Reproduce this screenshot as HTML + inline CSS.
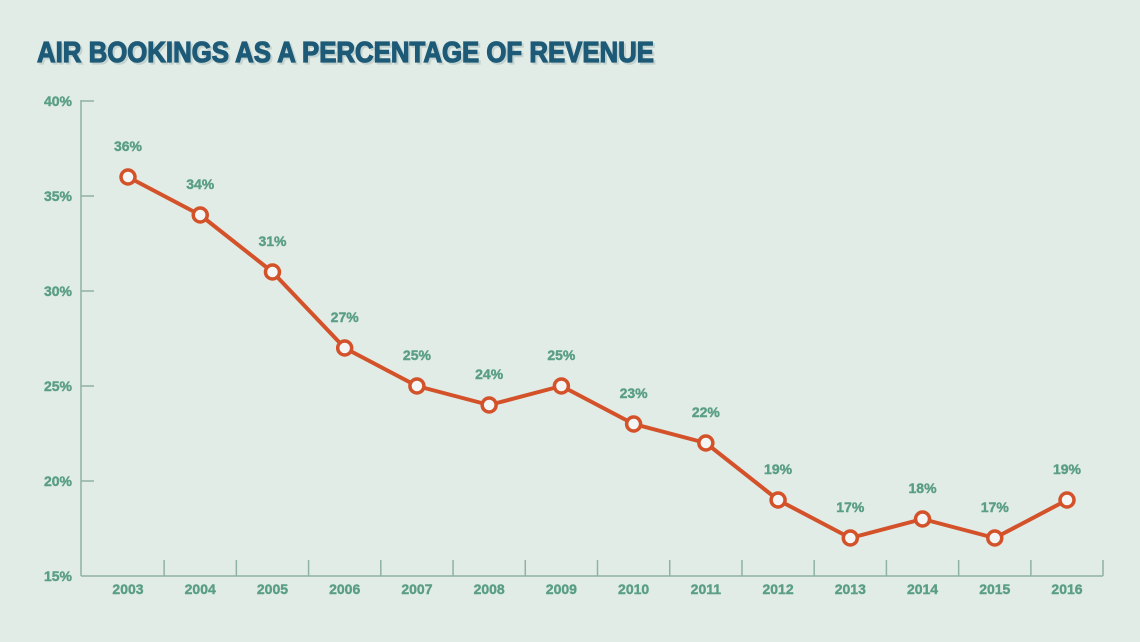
<!DOCTYPE html>
<html><head><meta charset="utf-8"><style>
body{margin:0;background:#e1ece7;}
svg{display:block;font-family:"Liberation Sans",sans-serif;}
</style></head><body>
<svg id="c" width="1140" height="642">
<rect width="1140" height="642" fill="#e1ece7"/>
<text x="39" y="64" font-size="29" font-weight="bold" fill="#c4d3cf" stroke="#c4d3cf" stroke-width="1.2" textLength="617" lengthAdjust="spacingAndGlyphs">AIR BOOKINGS AS A PERCENTAGE OF REVENUE</text>
<text x="37" y="62" font-size="29" font-weight="bold" fill="#1d5a77" stroke="#1d5a77" stroke-width="1.2" textLength="617" lengthAdjust="spacingAndGlyphs">AIR BOOKINGS AS A PERCENTAGE OF REVENUE</text>
<g id="axes"></g><g id="marks"></g>
</svg>
<script>
const years=["2003","2004","2005","2006","2007","2008","2009","2010","2011","2012","2013","2014","2015","2016"];
const values=[36,34,31,27,25,24,25,23,22,19,17,18,17,19];
const yTicks=[15,20,25,30,35,40];
const NS="http://www.w3.org/2000/svg";
const x0=128,dx=(1067-128)/13;
function xs(i){return x0+i*dx;}
function ys(v){return 576-(v-15)*19;}
function mk(t,a,p){const e=document.createElementNS(NS,t);for(const k in a)e.setAttribute(k,a[k]);p.appendChild(e);return e;}
const ax=document.getElementById('axes'),mg=document.getElementById('marks');
const g="#8fb2a5",lc="#5a9e86";
let yl=mk('line',{x1:81,y1:100,x2:81,y2:576,stroke:g,'stroke-width':1.5},ax);


let xl=mk('line',{x1:81,y1:576,x2:1103,y2:576,stroke:g,'stroke-width':1.5},ax);


yTicks.forEach(v=>{
 if(v>15)mk('line',{x1:81,y1:ys(v),x2:94,y2:ys(v),stroke:g,'stroke-width':1.5},ax);
 const t=mk('text',{x:72,y:ys(v)+5,'text-anchor':'end','font-size':14,'font-weight':'bold',fill:lc,stroke:lc,'stroke-width':0.4},ax);
 t.textContent=v+'%';
 
 
});
years.forEach((y,i)=>{
 if(i<13){const bx=xs(i)+dx/2;mk('line',{x1:bx,y1:560,x2:bx,y2:576,stroke:g,'stroke-width':1.5},ax);}
 else mk('line',{x1:1103,y1:560,x2:1103,y2:576,stroke:g,'stroke-width':1.5},ax);
 const t=mk('text',{x:xs(i),y:594,'text-anchor':'middle','font-size':14,'font-weight':'bold',fill:lc,stroke:lc,'stroke-width':0.4},ax);
 t.textContent=y;
 
 
});
const pl=mk('polyline',{points:values.map((v,i)=>xs(i)+','+ys(v)).join(' '),fill:'none',stroke:'#d4522a','stroke-width':4,'stroke-linejoin':'round'},mg);


values.forEach((v,i)=>{
 const c=mk('circle',{cx:xs(i),cy:ys(v),r:7,fill:'#f3f6f4',stroke:'#d4522a','stroke-width':3.5},mg);
 
 
 const t=mk('text',{x:xs(i),y:ys(v)-26,'text-anchor':'middle','font-size':14,'font-weight':'bold',fill:lc,stroke:lc,'stroke-width':0.4},mg);
 t.textContent=v+'%';
 
 
});
</script>
</body></html>
